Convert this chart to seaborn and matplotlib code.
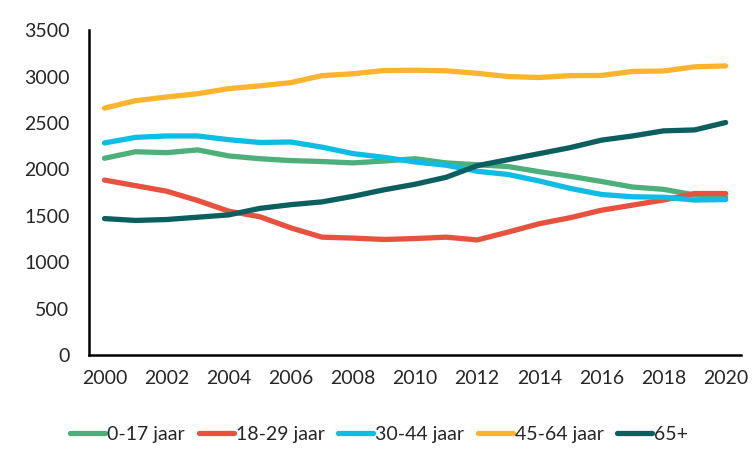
import pandas as pd
import numpy as np
import matplotlib.pyplot as plt
import seaborn as sns

years = list(range(2000, 2021))
age_0_17 = [2120, 2190, 2180, 2210, 2145, 2115, 2095, 2085, 2070, 2090, 2115, 2070, 2050, 2030, 1975, 1925, 1870, 1810, 1785, 1725, 1700]
age_18_29 = [1885, 1825, 1765, 1665, 1550, 1490, 1370, 1270, 1260, 1245, 1255, 1270, 1240, 1325, 1415, 1480, 1560, 1615, 1670, 1740, 1740]
age_30_44 = [2285, 2345, 2360, 2360, 2320, 2290, 2295, 2240, 2170, 2130, 2080, 2045, 1980, 1945, 1875, 1795, 1730, 1705, 1700, 1670, 1675]
age_45_64 = [2660, 2740, 2780, 2815, 2870, 2900, 2935, 3010, 3030, 3065, 3068, 3062, 3035, 3000, 2990, 3010, 3012, 3055, 3060, 3105, 3115]
age_65 = [1470, 1450, 1460, 1485, 1510, 1580, 1620, 1650, 1710, 1780, 1840, 1915, 2040, 2105, 2170, 2235, 2315, 2360, 2415, 2425, 2505]

groups = ["0-17 jaar", "18-29 jaar", "30-44 jaar", "45-64 jaar", "65+"]
colors = ["#4DB07A", "#E8513D", "#0DBDE3", "#FBB42D", "#0C5F5F"]

df = pd.DataFrame({"jaar": years, groups[0]: age_0_17, groups[1]: age_18_29,
                   groups[2]: age_30_44, groups[3]: age_45_64, groups[4]: age_65})
long_df = df.melt(id_vars="jaar", var_name="groep", value_name="aantal")

sns.set_style("white")
plt.rcParams["font.family"] = ["Lato", "DejaVu Sans"]

fig = plt.figure(figsize=(7.54, 4.5), dpi=100)
ax = fig.add_axes([0.118, 0.211, 0.865, 0.722])

sns.lineplot(data=long_df, x="jaar", y="aantal", hue="groep", palette=colors,
             hue_order=groups, linewidth=3.8, ax=ax, solid_capstyle="round")

ax.set_xlim(1999.5, 2020.5)
ax.set_ylim(0, 3500)
ax.set_xticks(range(2000, 2021, 2))
ax.set_yticks(range(0, 3501, 500))
ax.tick_params(axis="both", labelsize=14, length=0)
ax.tick_params(axis="x", pad=11)
ax.tick_params(axis="y", pad=14)
ax.set_xlabel("")
ax.set_ylabel("")
sns.despine(ax=ax)
for side in ["left", "bottom"]:
    ax.spines[side].set_color("black")
    ax.spines[side].set_linewidth(1.8)

ax.legend(loc="upper center", bbox_to_anchor=(0.445, -0.165), ncol=5, frameon=False,
          fontsize=14, handlelength=1.8, handletextpad=0.1, columnspacing=0.7)

plt.savefig("out.png", dpi=100)
plt.close()
